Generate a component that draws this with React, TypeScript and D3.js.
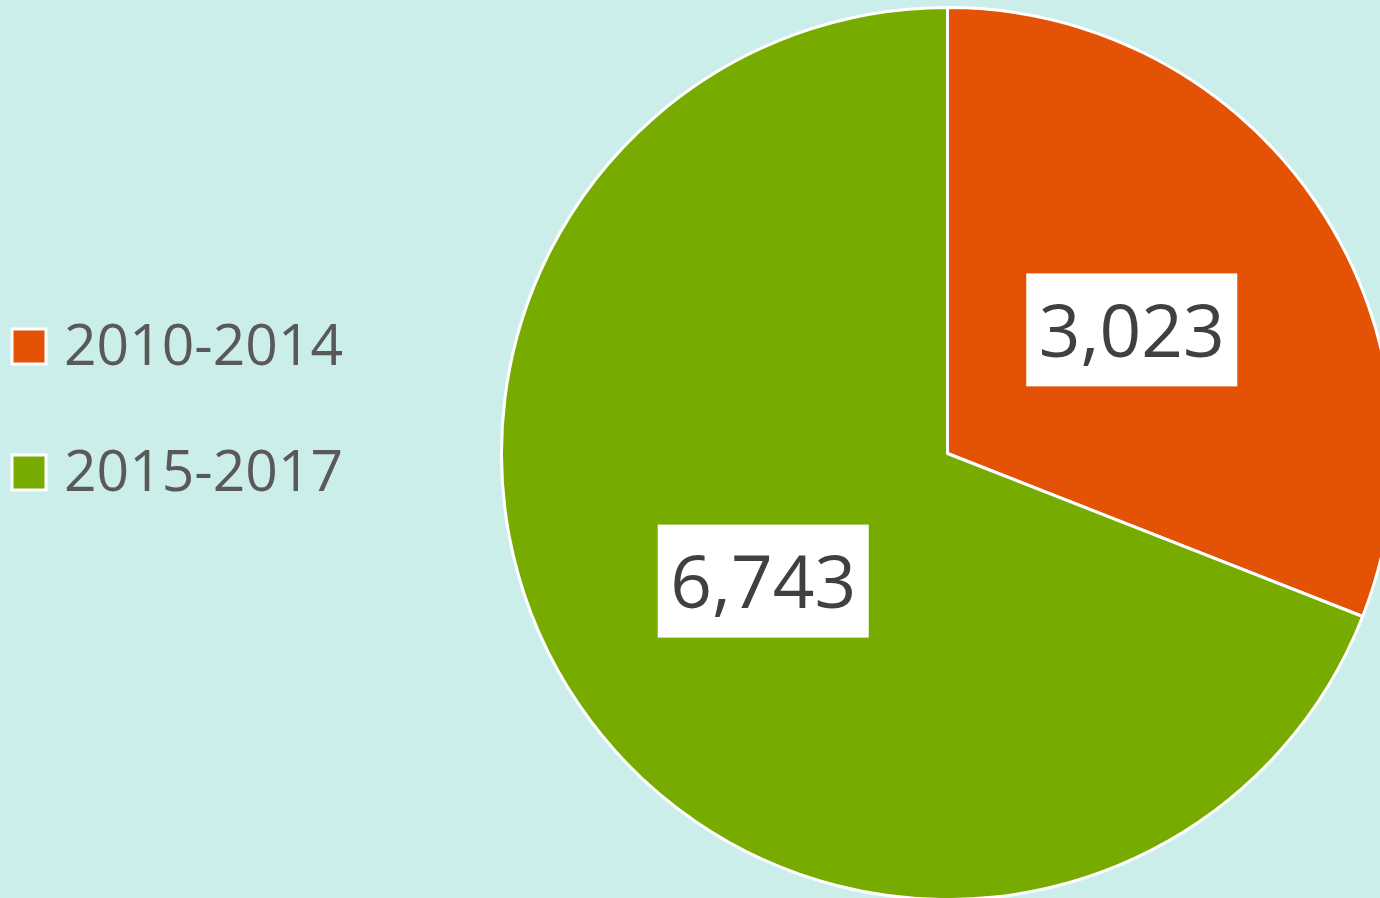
import React, { useEffect, useRef } from 'react';
import * as d3 from 'd3';

const categories = ['2010-2014', '2015-2017'];
const values = [3023, 6743];
const colors = ['#E35205', '#78AB00'];

const width = 1380;
const height = 898;

export default function App() {
  const ref = useRef<SVGSVGElement | null>(null);

  useEffect(() => {
    const svg = d3.select(ref.current);
    svg.selectAll('*').remove();

    svg.append('rect').attr('width', width).attr('height', height).attr('fill', '#CCEEEA');

    const radius = 446;
    const g = svg.append('g').attr('transform', 'translate(947.5,453.5)');

    const pie = d3.pie<number>().sort(null).value(d => d);
    const arc = d3.arc<d3.PieArcDatum<number>>().innerRadius(0).outerRadius(radius);
    const arcs = pie(values);

    g.selectAll('path.slice')
      .data(arcs)
      .enter()
      .append('path')
      .attr('class', 'slice')
      .attr('d', arc)
      .attr('fill', (d, i) => colors[i])
      .attr('stroke', '#fff')
      .attr('stroke-width', 3)
      .attr('stroke-linejoin', 'round');

    // data labels in white boxes
    const fmt = d3.format(',');
    const labels = g.selectAll('g.label').data(arcs).enter().append('g').attr('class', 'label')
      .attr('transform', d => {
        const [x, y] = arc.centroid(d);
        return `translate(${x},${y + 2})`;
      });

    const boxW = 211, boxH = 113;
    labels.append('rect')
      .attr('x', -boxW / 2)
      .attr('y', -boxH / 2)
      .attr('width', boxW)
      .attr('height', boxH)
      .attr('fill', '#fff');

    labels.append('text')
      .attr('text-anchor', 'middle')
      .attr('y', 27)
      .attr('font-family', '"Open Sans", sans-serif')
      .attr('font-size', 73)
      .attr('fill', '#404040')
      .text(d => fmt(d.data));

    // legend
    const legend = svg.selectAll('g.legend').data(categories).enter().append('g').attr('class', 'legend')
      .attr('transform', (d, i) => `translate(0,${346 + i * 126})`);

    legend.append('rect')
      .attr('x', 12)
      .attr('y', -17)
      .attr('width', 34)
      .attr('height', 35)
      .attr('fill', (d, i) => colors[i])
      .attr('stroke', '#fff')
      .attr('stroke-width', 3);

    legend.append('text')
      .attr('x', 64)
      .attr('y', 19)
      .attr('font-family', '"Open Sans", sans-serif')
      .attr('font-size', 57)
      .attr('fill', '#595959')
      .text(d => d);
  }, []);

  return (
    <svg
      ref={ref}
      width={width}
      height={height}
      style={{ position: 'absolute', left: 0, top: 0, display: 'block' }}
    />
  );
}
